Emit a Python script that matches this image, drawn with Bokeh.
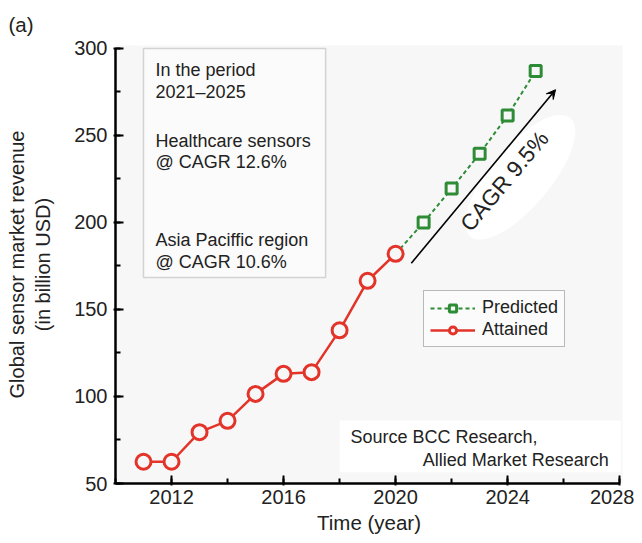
from bokeh.plotting import figure
from bokeh.models import (Arrow, VeeHead, BoxAnnotation, Label, Legend, LegendItem,
                          FixedTicker, Range1d, Title)
from bokeh.embed import file_html
from bokeh.resources import INLINE
from bokeh.core.properties import value

# ---- data ----
attained_years = [2011, 2012, 2013, 2014, 2015, 2016, 2017, 2018, 2019, 2020]
attained_vals = [62.5, 62.5, 79.5, 86, 101.5, 113, 114, 138, 166.5, 182]
predicted_line_years = [2020, 2021, 2022, 2023, 2024, 2025]
predicted_line_vals = [182, 200, 219.5, 239.5, 261.5, 287]
predicted_years = [2021, 2022, 2023, 2024, 2025]
predicted_vals = [200, 219.5, 239.5, 261.5, 287]
x_ticks = [2012, 2016, 2020, 2024, 2028]
y_ticks = [50, 100, 150, 200, 250, 300]
inset_lines = ["In the period", "2021\u20132025", "Healthcare sensors", "@ CAGR 12.6%",
               "Asia Paciffic region", "@ CAGR 10.6%"]

RED = "#e3342a"
GREEN = "#2e8b36"
BG = "#f7f7f7"
FONT = "Liberation Sans"
TXT = "#222222"

p = figure(width=634, height=543, output_backend="svg", toolbar_location=None,
           x_range=Range1d(2010, 2028.1), y_range=Range1d(50, 301.7),
           min_border_left=115, min_border_right=12, min_border_top=45, min_border_bottom=60)
p.background_fill_color = BG
p.border_fill_color = "white"
p.outline_line_color = None
p.grid.visible = False

# panel label as title
p.title.text = "(a)"
p.title.align = "left"
p.title.offset = -107
p.title.text_font = FONT
p.title.text_font_size = "20.5px"
p.title.text_font_style = "normal"
p.title.text_color = TXT
p.title.standoff = 19

# axes
for ax in (p.xaxis[0], p.yaxis[0]):
    ax.axis_line_width = 2.5
    ax.axis_line_color = "black"
    ax.major_tick_line_width = 2
    ax.minor_tick_line_width = 2
    ax.major_tick_in = 8
    ax.major_tick_out = 2
    ax.minor_tick_in = 5
    ax.minor_tick_out = 0
    ax.major_label_text_font = FONT
    ax.major_label_text_font_size = "20px"
    ax.major_label_text_color = TXT
    ax.axis_label_text_font = FONT
    ax.axis_label_text_font_size = "20px"
    ax.axis_label_text_font_style = "normal"
    ax.axis_label_text_color = TXT

p.xaxis.ticker = FixedTicker(ticks=x_ticks, minor_ticks=list(range(2010, 2029, 2)))
p.yaxis.ticker = FixedTicker(ticks=y_ticks, minor_ticks=list(range(50, 301, 25)))
p.xaxis.bounds = (2010, 2028)
p.yaxis.bounds = (50, 300)
p.yaxis.axis_label = "Global sensor market revenue\n(in billion USD)"
p.xaxis.major_label_standoff = 4
p.yaxis.major_label_standoff = 6
p.yaxis.axis_label_standoff = 17

# x-axis title, centred under 2020 like the reference
p.add_layout(Title(text="Time (year)", align="center", offset=27, text_font=FONT,
                   text_font_size="20.5px", text_font_style="normal", text_color=TXT,
                   standoff=4), "below")

# inset box
p.add_layout(BoxAnnotation(left=2011.0, right=2017.5, top=300, bottom=168.4,
                           fill_color="#fbfbfb", fill_alpha=1.0,
                           line_color="#7a7a7a", line_width=1.5))
inset_y = [287.4, 274.7, 247.1, 234.5, 189.7, 177.0]
for t, yy in zip(inset_lines, inset_y):
    p.add_layout(Label(x=2011.43, y=yy, text=t, text_font=FONT, text_font_size="18px",
                       text_baseline="middle", text_color=TXT))

# source box
p.add_layout(BoxAnnotation(left=2018.0, right=2028.04, top=86.2, bottom=56.5,
                           fill_color="white", fill_alpha=1.0, line_color=None))
p.add_layout(Label(x=2018.39, y=76.5, text="Source BCC Research,", text_font=FONT,
                   text_font_size="18px", text_baseline="middle", text_color=TXT))
p.add_layout(Label(x=2027.61, y=63.3, text="Allied Market Research", text_font=FONT,
                   text_font_size="18px", text_baseline="middle", text_align="right",
                   text_color=TXT))

# white blob behind CAGR text
p.ellipse(x=[2024.45], y=[226.0], width=[155], height=[60], angle=0.87,
          width_units="screen", height_units="screen", fill_color="white",
          line_color=None)

# arrow + text
p.add_layout(Arrow(end=VeeHead(size=9, fill_color="black", line_color="black", line_width=1),
                   x_start=2020.56, y_start=176.6, x_end=2025.71, y_end=276.3,
                   line_width=1.6, line_color="black"))
p.text(x=[2023.89], y=[223.7], text=["CAGR 9.5%"], angle=0.87,
       text_font=value(FONT), text_font_size="22.5px", text_align="center",
       text_baseline="middle", text_color=TXT)

# predicted series
pl = p.line(predicted_line_years, predicted_line_vals, line_color=GREEN, line_width=2,
            line_dash="4 3")
ps = p.scatter(predicted_years, predicted_vals, marker="square", size=11,
               line_color=GREEN, line_width=3, fill_color=BG)

# attained series
al = p.line(attained_years, attained_vals, line_color=RED, line_width=2.5)
ac = p.scatter(attained_years, attained_vals, marker="circle", size=15,
               line_color=RED, line_width=3, fill_color=BG)

legend = Legend(items=[LegendItem(label="Predicted", renderers=[pl, ps]),
                       LegendItem(label="Attained", renderers=[al, ac])],
                location=(308, 136), label_text_font=FONT, label_text_font_size="18px",
                label_text_color=TXT, glyph_width=45, glyph_height=18,
                label_standoff=7, padding=6, spacing=1, margin=0,
                border_line_color="#777777", border_line_width=1.2,
                background_fill_color="#fbfbfb", background_fill_alpha=1.0)
p.add_layout(legend)

open("out.html", "w").write(file_html(p, INLINE))
